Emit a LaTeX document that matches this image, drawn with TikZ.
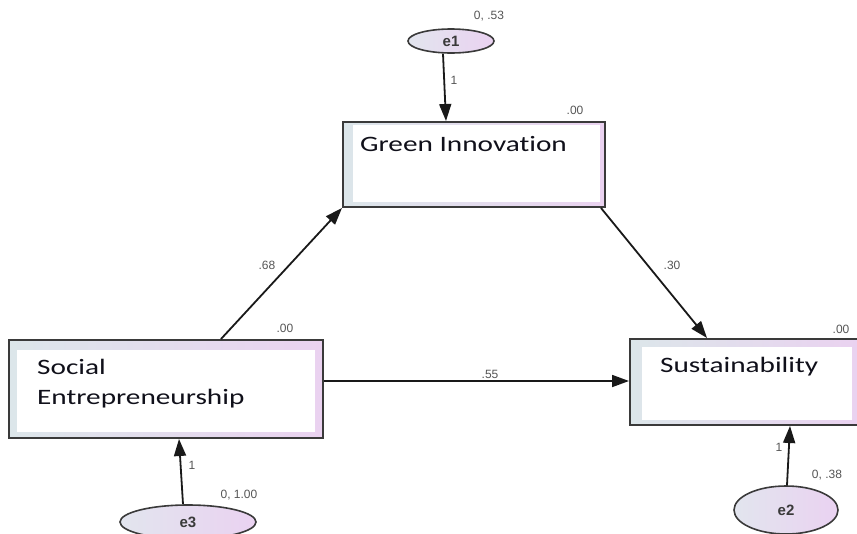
\documentclass[tikz,border=0pt]{standalone}
\usepackage{fontspec}
\setmainfont{Liberation Sans}
\newfontfamily\boxfont[FakeStretch=1.33,Ligatures={NoCommon}]{Carlito}
\usetikzlibrary{arrows.meta,calc,shapes.geometric}
\definecolor{bL}{HTML}{DCE6EA}
\definecolor{bR}{HTML}{EAD2F0}
\definecolor{eL}{HTML}{E2E5EE}
\definecolor{eR}{HTML}{EAD2F1}
\definecolor{edge}{HTML}{3A3A3A}
\definecolor{lab}{HTML}{555555}
\definecolor{txt}{HTML}{10101A}
\begin{document}
\begin{tikzpicture}[x=1pt,y=-1pt,
  gbox/.style n args={4}{rectangle, draw=edge, line width=2pt, left color=bL, right color=bR, inner sep=0pt,
    path picture={\fill[white] ($(path picture bounding box.south west)+(#1,-#4)$) rectangle ($(path picture bounding box.north east)+(-#2,#3)$);}},
  ell/.style={ellipse, draw=edge, line width=1.6pt, left color=eL, right color=eR, inner sep=0pt,
    font=\bfseries\fontsize{15}{15}\selectfont, text=edge},
  boxtxt/.style={font=\boxfont\fontsize{22}{26}\selectfont, text=txt, inner sep=0pt, anchor=base west},
  lbl/.style={font=\fontsize{12}{12}\selectfont, text=lab, inner sep=0pt},
  arr/.style={draw=black!90, line width=1.8pt, -{Triangle[length=17pt,width=12pt]}}
]
\useasboundingbox (0,0) rectangle (857,533);
\clip (0,0) rectangle (857,533);

% boxes
\node[gbox={10}{5}{3}{5}, minimum width=262pt, minimum height=85pt] (GI) at (474,164.5) {};
\node[gbox={8}{8}{10}{6}, minimum width=314pt, minimum height=98pt] (SE) at (166,389) {};
\node[gbox={12}{6}{8}{5}, minimum width=228pt, minimum height=86pt] (SU) at (744,382) {};

\node[boxtxt] (tGI) at ($(GI.north west)+(18,30)$) {Green Innovation};
\node[boxtxt] (tSE1) at ($(SE.north west)+(29,35)$) {Social};
\node[boxtxt] (tSE2) at ($(SE.north west)+(29,65)$) {Entrepreneurship};
\node[boxtxt] (tSU) at ($(SU.north west)+(31,34)$) {Sustainability};

% ellipses
\node[ell, minimum width=86pt, minimum height=24pt] (e1) at (451,41) {e1};
\node[ell, minimum width=136pt, minimum height=34pt] (e3) at (188,522) {e3};
\node[ell, minimum width=104pt, minimum height=48pt] (e2) at (786,510) {e2};

% arrows
\draw[arr] ($(e1.south)+(-8,0)$) -- ($(GI.north west)+(104,0)$);
\draw[arr] ($(e3.north)+(-5,0)$) -- ($(SE.south west)+(171,0)$);
\draw[arr] ($(e2.north)+(1,0)$) -- ($(SU.south west)+(161,0)$);
\draw[arr] ($(SE.north west)+(213,0)$) -- (GI.south west);
\draw[arr] ($(GI.south east)+(-5,0)$) -- ($(SU.north west)+(78,0)$);
\draw[arr] ($(SE.north east)+(0,42)$) -- ($(SU.north west)+(0,43)$);

% labels
\node[lbl] (l1) at (489,16) {0, .53};
\node[lbl] (l2) at (454,80) {1};
\node[lbl] (l3) at (575,110) {.00};
\node[lbl] (l4) at (267,265) {.68};
\node[lbl] (l5) at (672,265) {.30};
\node[lbl] (l6) at (490,374) {.55};
\node[lbl] (l7) at (285,328) {.00};
\node[lbl] (l8) at (192,465) {1};
\node[lbl] (l9) at (239,495) {0, 1.00};
\node[lbl] (l10) at (841,329) {.00};
\node[lbl] (l11) at (779,447) {1};
\node[lbl] (l12) at (827,475) {0, .38};
\end{tikzpicture}
\end{document}
